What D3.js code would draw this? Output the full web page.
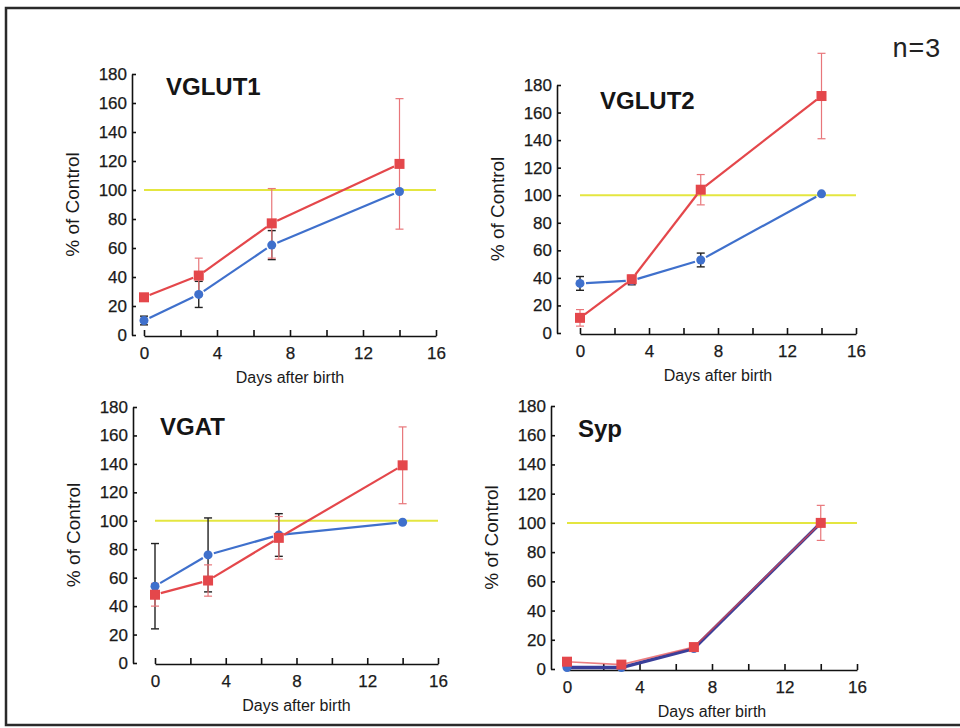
<!DOCTYPE html>
<html>
<head>
<meta charset="utf-8">
<script src="https://cdn.jsdelivr.net/npm/d3@7"></script>
<style>
  body { margin: 0; background: #fff; }
  svg { display: block; }
</style>
</head>
<body>
<svg id="chart" width="960" height="728"></svg>
<script>
// days sampled
var days = [0, 3, 7, 14]
var controlLevel = 100
var xTicks = [0, 2, 4, 6, 8, 10, 12, 14, 16]
var yTicks = [0, 20, 40, 60, 80, 100, 120, 140, 160, 180]

// % of control
var vglut1Red = [26, 41, 77, 118]
var vglut1RedErr = [1, 12, 24, 45]
var vglut1Blue = [10, 28, 62, 99]
var vglut1BlueErr = [3, 9, 10, 0]

var vglut2Red = [11, 39, 104, 172]
var vglut2RedErr = [6, 3, 11, 31]
var vglut2Blue = [36, 38, 53, 101]
var vglut2BlueErr = [5, 3, 5, 0]

var vgatRed = [48, 58, 88, 139]
var vgatRedErr = [8, 11, 15, 27]
var vgatBlue = [54, 76, 90, 99]
var vgatBlueErr = [30, 26, 15, 0]

var sypRed = [5, 3, 15, 100]
var sypRedErr = [1, 1, 2, 12]
var sypBlue = [1, 1, 14, 100]
var sypBlueErr = [0, 0, 0, 0]

var colorRed = '#e4474b'
var colorRedErr = '#e8767a'
var colorBlue = '#3f70cc'
var colorYellow = '#e4e640'

var panels = [
  { title: 'VGLUT1', red: vglut1Red, redErr: vglut1RedErr, blue: vglut1Blue, blueErr: vglut1BlueErr,
    axisX: 132, x0: 144, x1: 436, y0: 335, y1: 74, tx: 166, ty: 95 },
  { title: 'VGLUT2', red: vglut2Red, redErr: vglut2RedErr, blue: vglut2Blue, blueErr: vglut2BlueErr,
    axisX: 557, x0: 580, x1: 856, y0: 333, y1: 85, tx: 600, ty: 109 },
  { title: 'VGAT', red: vgatRed, redErr: vgatRedErr, blue: vgatBlue, blueErr: vgatBlueErr,
    axisX: 133, x0: 155, x1: 438, y0: 663, y1: 407, tx: 160, ty: 435 },
  { title: 'Syp', red: sypRed, redErr: sypRedErr, blue: sypBlue, blueErr: sypBlueErr,
    axisX: 551, x0: 567, x1: 857, y0: 669, y1: 406, tx: 578, ty: 437, overlap: true }
]

var svg = d3.select('#chart')
var font = 'Liberation Sans, Arial, Helvetica, sans-serif'

// outer frame
svg.append('rect')
  .attr('x', 6).attr('y', 8).attr('width', 980).attr('height', 717)
  .attr('fill', 'none').attr('stroke', '#2a2a2a').attr('stroke-width', 2.5)

svg.append('text')
  .attr('x', 892).attr('y', 57)
  .attr('font-family', 'Liberation Mono, Courier New, monospace')
  .attr('font-size', 27).attr('fill', '#222')
  .text('n=3')

// shorten a segment so the line stops short of the markers
function gapSegment(a, b, gap) {
  var dx = b[0] - a[0], dy = b[1] - a[1]
  var len = Math.sqrt(dx * dx + dy * dy)
  if (len < 2 * gap + 1) return null
  var ux = dx / len, uy = dy / len
  return [[a[0] + ux * gap, a[1] + uy * gap], [b[0] - ux * gap, b[1] - uy * gap]]
}

function drawPanel(p) {
  var x = d3.scaleLinear().domain([0, 16]).range([p.x0, p.x1])
  var y = d3.scaleLinear().domain([0, 180]).range([p.y0, p.y1])
  var g = svg.append('g')

  // axes
  var yAxis = g.append('g')
    .attr('transform', 'translate(' + p.axisX + ',0)')
    .call(d3.axisLeft(y).tickValues(yTicks).tickSize(-4).tickSizeOuter(0).tickPadding(5))
  var xAxis = g.append('g')
    .attr('transform', 'translate(0,' + (p.y0 + 1) + ')')
    .call(d3.axisBottom(x).tickValues(xTicks).tickSize(-6).tickSizeOuter(0).tickPadding(11)
      .tickFormat(function(d) { return d % 4 === 0 ? d : '' }))

  ;[yAxis, xAxis].forEach(function(ax) {
    ax.selectAll('path, line').attr('stroke', '#111').attr('stroke-width', 1.6)
    ax.selectAll('text').attr('font-family', font).attr('font-size', 17).attr('fill', '#1a1a1a')
      .attr('stroke', '#1a1a1a').attr('stroke-width', 0.25)
  })

  g.append('text')
    .attr('transform', 'translate(' + (p.axisX - 53) + ',' + ((p.y0 + p.y1) / 2) + ') rotate(-90)')
    .attr('text-anchor', 'middle')
    .attr('font-family', font).attr('font-size', 19).attr('fill', '#1a1a1a')
    .text('% of Control')

  g.append('text')
    .attr('x', (p.x0 + p.x1) / 2).attr('y', p.y0 + 48)
    .attr('text-anchor', 'middle')
    .attr('font-family', font).attr('font-size', 16).attr('fill', '#1a1a1a')
    .text('Days after birth')

  g.append('text')
    .attr('x', p.tx).attr('y', p.ty)
    .attr('font-family', font).attr('font-size', 24).attr('font-weight', 'bold').attr('fill', '#151515')
    .text(p.title)

  // control line
  g.append('line')
    .attr('x1', x(0)).attr('x2', x(16))
    .attr('y1', y(controlLevel)).attr('y2', y(controlLevel))
    .attr('stroke', colorYellow).attr('stroke-width', 2)

  function errorBars(vals, errs, color, width) {
    days.forEach(function(d, i) {
      if (!errs[i]) return
      var cx = x(d)
      var top = y(vals[i] + errs[i]), bot = y(vals[i] - errs[i])
      g.append('line').attr('x1', cx).attr('x2', cx).attr('y1', top).attr('y2', bot)
        .attr('stroke', color).attr('stroke-width', width)
      ;[top, bot].forEach(function(yy) {
        g.append('line').attr('x1', cx - 4).attr('x2', cx + 4).attr('y1', yy).attr('y2', yy)
          .attr('stroke', color).attr('stroke-width', width)
      })
    })
  }

  function series(vals, color, gap, width, opacity) {
    var pts = days.map(function(d, i) { return [x(d), y(vals[i])] })
    for (var i = 0; i < pts.length - 1; i++) {
      var s = gapSegment(pts[i], pts[i + 1], gap)
      if (!s) continue
      g.append('line')
        .attr('x1', s[0][0]).attr('y1', s[0][1]).attr('x2', s[1][0]).attr('y2', s[1][1])
        .attr('stroke', color).attr('stroke-width', width).attr('stroke-opacity', opacity)
    }
    return pts
  }

  errorBars(p.blue, p.blueErr, '#222', 1.4)
  errorBars(p.red, p.redErr, colorRedErr, 1.2)

  var bluePts = series(p.blue, p.overlap ? '#3a3f9a' : colorBlue, p.overlap ? 0 : 6, p.overlap ? 3.4 : 2.2, 1)
  g.selectAll(null).data(bluePts).enter().append('circle')
    .attr('cx', function(d) { return d[0] }).attr('cy', function(d) { return d[1] })
    .attr('r', 4.5).attr('fill', colorBlue)

  var redPts = series(p.red, colorRed, p.overlap ? 0 : 6, p.overlap ? 1.6 : 2.2, p.overlap ? 0.7 : 1)
  g.selectAll(null).data(redPts).enter().append('rect')
    .attr('x', function(d) { return d[0] - 5 }).attr('y', function(d) { return d[1] - 5 })
    .attr('width', 10).attr('height', 10).attr('fill', colorRed)
}

panels.forEach(drawPanel)
</script>
</body>
</html>
